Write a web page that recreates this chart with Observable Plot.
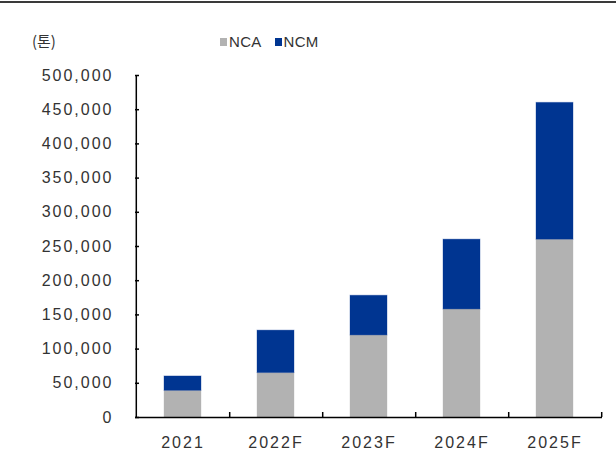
<!DOCTYPE html>
<html>
<head>
<meta charset="utf-8">
<script src="https://cdn.jsdelivr.net/npm/d3@7"></script>
<script src="https://cdn.jsdelivr.net/npm/@observablehq/plot@0.6"></script>
<style>
  html, body { margin: 0; padding: 0; background: #fff; }
  #wrap { position: relative; width: 616px; height: 454px; overflow: hidden; font-family: "Liberation Sans", Arial, sans-serif; color: #333; }
  #topline { position: absolute; left: 0; top: 1px; width: 616px; height: 2px; background: #3a3a3a; }
  #unit { position: absolute; left: 32px; top: 30px; font-size: 15px; font-family: "Noto Sans CJK KR", sans-serif; color: #333; }
  #legend { position: absolute; left: 220px; top: 33px; font-size: 15px; color: #333; display: flex; align-items: center; letter-spacing: 0.3px; }
  #legend .sw { display: inline-block; width: 7px; height: 8px; margin-right: 2px; }
  #legend .item { display: flex; align-items: center; margin-right: 13px; }
  #chart svg text { letter-spacing: 2px; }
</style>
</head>
<body>
<div id="wrap">
  <div id="chart"></div>
  <div id="topline"></div>
  <div id="unit">(톤)</div>
  <div id="legend"></div>
</div>
<script>
const years = ["2021", "2022F", "2023F", "2024F", "2025F"];
const seriesNames = ["NCA", "NCM"];
const ncaValues = [39000, 65000, 120000, 158000, 260000];
const ncmValues = [21000, 62000, 58000, 102000, 200000];
const seriesColors = ["#b2b2b2", "#003591"];
const yTicks = [0, 50000, 100000, 150000, 200000, 250000, 300000, 350000, 400000, 450000, 500000];

const rows = [];
years.forEach((y, i) => {
  rows.push({year: y, series: "NCA", value: ncaValues[i]});
  rows.push({year: y, series: "NCM", value: ncmValues[i]});
});

const marginLeft = 135, marginRight = 14, width = 616;
const step = (width - marginLeft - marginRight) / years.length;

const chart = Plot.plot({
  width: 616,
  height: 454,
  marginTop: 75,
  marginBottom: 37,
  marginLeft,
  marginRight,
  style: {fontFamily: "'Liberation Sans', Arial, sans-serif", fontSize: "16px", color: "#333", background: "#fff"},
  x: {domain: years, paddingInner: 0.6, paddingOuter: 0.3, axis: null},
  y: {domain: [0, 500000], axis: null},
  color: {domain: seriesNames, range: seriesColors},
  marks: [
    Plot.barY(rows, {x: "year", y: "value", fill: "series", stroke: "series", strokeOpacity: 0.35, strokeWidth: 1}),
    Plot.ruleX(years, {x: d => d, dx: step / 2, insetTop: 337, stroke: "#000", strokeWidth: 1.5}),
    Plot.ruleX([years[0]], {x: d => d, dx: -step / 2, stroke: "#000", strokeWidth: 1.5}),
    Plot.ruleY([0], {stroke: "#000", strokeWidth: 1.5}),
    Plot.axisY({ticks: yTicks, tickFormat: d3.format(","), tickSize: 4, dx: 4, tickPadding: 22, strokeWidth: 1.5, stroke: "#000", fill: "#333", label: null}),
    Plot.axisX({tickSize: 0, tickPadding: 19, fill: "#333", label: null})
  ]
});
document.getElementById("chart").appendChild(chart);

const legend = document.getElementById("legend");
seriesNames.forEach((s, i) => {
  const item = document.createElement("span");
  item.className = "item";
  const sw = document.createElement("span");
  sw.className = "sw";
  sw.style.background = seriesColors[i];
  item.appendChild(sw);
  item.appendChild(document.createTextNode(s));
  legend.appendChild(item);
});
</script>
</body>
</html>
